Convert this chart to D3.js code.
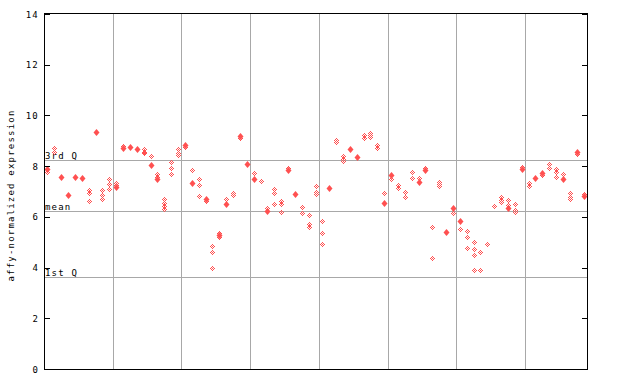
<!DOCTYPE html>
<html><head><meta charset="utf-8">
<script src="https://cdn.jsdelivr.net/npm/d3@7"></script>
<style>body{margin:0;background:#fff}svg{display:block}text{font-family:"DejaVu Sans Mono",monospace;font-size:9px;letter-spacing:1.2px;fill:#000}</style>
</head><body><svg id="c" width="640" height="384"></svg>
<script>
// sample index 0..78; solid (filled) marker value per sample, null if none
const solid = [7.9,null,7.56,6.85,7.56,7.53,null,9.35,null,null,
 7.19,8.70,8.77,8.68,null,8.06,7.5,null,null,null,
 8.84,7.35,null,6.72,null,5.30,6.52,null,9.19,8.10,
 7.49,null,6.22,null,null,7.85,6.91,null,null,null,
 null,7.12,null,null,8.66,8.37,null,null,null,6.56,
 7.66,null,null,null,7.39,7.85,null,null,5.39,6.35,
 5.85,null,null,null,null,null,null,6.36,null,7.87,
 null,7.54,7.74,null,null,7.50,null,8.54,6.82];
// hatched (replicate) markers per sample
const hatched = [[7.75],[8.7,8.55],[],[],[],[],[7.06,6.93,6.62],[],[7.06,6.86,6.69],[7.48,7.30,7.09],
 [7.35,7.25],[8.8],[],[],[8.66,8.57,8.51],[8.40],[7.69,7.58],[6.69,6.56,6.43,6.32],[8.15,7.91,7.69],[8.66,8.53,8.43],
 [8.74],[7.83],[7.48,7.26,6.81],[6.61],[4.84,4.60,3.97],[5.38,5.22],[6.69],[6.93,6.85],[9.1],[],
 [7.72],[7.40],[6.35],[7.09,6.93,6.49],[6.62,6.52,6.18],[7.91],[],[6.37,6.14],[6.06,5.70,5.61],[7.22,6.98,6.90],
 [5.82,5.35,4.92],[],[9.05,8.95],[8.40,8.29,8.19],[],[],[9.23,9.10],[9.32,9.23,9.16],[8.83,8.70],[6.93],
 [7.48],[7.24,7.12],[7.00,6.77],[7.76,7.52],[7.52],[7.91],[5.59,4.36],[7.38,7.28,7.22],[],[6.16],
 [5.51],[5.43,5.19,4.77],[5.00,4.72,4.48,3.89],[4.60,3.89],[4.92],[6.41],[6.77,6.66,6.59],[6.66,6.45],[6.51,6.27,6.19],[7.95],
 [7.35,7.22],[],[7.65],[8.07,7.94],[7.87,7.77,7.58],[7.69],[6.95,6.79,6.69],[8.48],[6.90]];
const yTicks = [0,2,4,6,8,10,12,14];
const groupBreaks = [10,20,30,40,50,60,70];
const refLines = [{label:"3rd Q",v:8.23},{label:"mean",v:6.22},{label:"1st Q",v:3.62}];
const yLabel = "affy-normalized expression";
const nSamples = 79;

const svg = d3.select("#c");
const L=44,R=587,T=14,B=369;
const x = d3.scaleLinear().domain([0,nSamples]).range([L,R]);
const y = d3.scaleLinear().domain([0,14]).range([B,T]);
const red = "#ff5050", grid="#a8a8a8";

const defs = svg.append("defs");
const pat = defs.append("pattern").attr("id","hatch").attr("patternUnits","userSpaceOnUse").attr("width",2).attr("height",2);
pat.append("rect").attr("x",0).attr("y",0).attr("width",1).attr("height",1).attr("fill",red);
pat.append("rect").attr("x",1).attr("y",1).attr("width",1).attr("height",1).attr("fill",red);

const g = svg.append("g").attr("shape-rendering","crispEdges");
// vertical grid
g.selectAll(".vg").data(groupBreaks).join("line")
 .attr("x1",d=>Math.round(x(d))+0.5).attr("x2",d=>Math.round(x(d))+0.5)
 .attr("y1",T).attr("y2",B).attr("stroke",grid);
// reference lines
g.selectAll(".rl").data(refLines).join("line")
 .attr("x1",L).attr("x2",R).attr("y1",d=>Math.round(y(d.v))+0.5).attr("y2",d=>Math.round(y(d.v))+0.5)
 .attr("stroke",grid);
svg.selectAll(".rt").data(refLines).join("text")
 .attr("x",L+1).attr("y",d=>Math.round(y(d.v))-1).text(d=>d.label);

// points
const hp=[];hatched.forEach((a,i)=>a.forEach(v=>hp.push({i,v})));
const sp=[];solid.forEach((v,i)=>{if(v!=null)sp.push({i,v});});
const diamond="M0,-3L3,0L0,3L-3,0Z";
svg.append("g").attr("shape-rendering","crispEdges").selectAll("path").data(hp).join("path")
 .attr("d",diamond).attr("transform",d=>`translate(${Math.round(x(d.i+0.5))},${Math.round(y(d.v))})`)
 .attr("fill","url(#hatch)");
svg.append("g").selectAll("path").data(sp).join("path")
 .attr("d","M0,-3.5L3,0L0,3.5L-3,0Z").attr("transform",d=>`translate(${Math.round(x(d.i+0.5))+0.5},${Math.round(y(d.v))+0.5})`)
 .attr("fill",red);

// frame
const f = svg.append("g").attr("shape-rendering","crispEdges");
f.append("rect").attr("x",L+0.5).attr("y",T-0.5).attr("width",R-L).attr("height",B-T+1)
 .attr("fill","none").attr("stroke","#000");
// ticks
f.selectAll(".lt").data(yTicks).join("line")
 .attr("x1",L).attr("x2",L+6).attr("y1",d=>Math.round(y(d))+0.5).attr("y2",d=>Math.round(y(d))+0.5).attr("stroke","#000");
f.selectAll(".rtk").data(yTicks).join("line")
 .attr("x1",R-5).attr("x2",R).attr("y1",d=>Math.round(y(d))+0.5).attr("y2",d=>Math.round(y(d))+0.5).attr("stroke","#000");
svg.selectAll(".tl").data(yTicks).join("text")
 .attr("x",39).attr("y",d=>y(d)+3.5).attr("text-anchor","end").text(d=>d);
svg.append("text").attr("transform",`translate(14,${(T+B)/2+4}) rotate(-90)`)
 .attr("text-anchor","middle").text(yLabel);
</script></body></html>
